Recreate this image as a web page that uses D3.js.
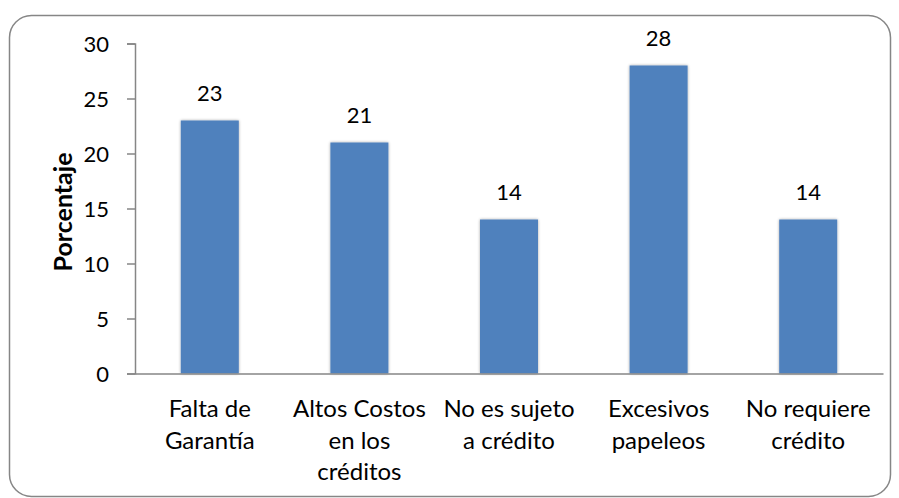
<!DOCTYPE html>
<html><head><meta charset="utf-8">
<script src="https://cdn.jsdelivr.net/npm/d3@7"></script>
<style>body{margin:0;background:#fff}svg{display:block}</style>
</head><body>
<svg id="c" width="899" height="498"></svg>
<script>
const categories = [["Falta de","Garantía"],["Altos Costos","en los","créditos"],["No es sujeto","a crédito"],["Excesivos","papeleos"],["No requiere","crédito"]];
const values = [23, 21, 14, 28, 14];
const yTicks = [0,5,10,15,20,25,30];
const yLabel = "Porcentaje";

const svg = d3.select("#c");
const FONT = "Lato, 'Open Sans', sans-serif";
const defs = svg.append("defs");
const f = defs.append("filter").attr("id","sh").attr("x","-20%").attr("y","-20%").attr("width","140%").attr("height","140%");
f.append("feGaussianBlur").attr("in","SourceAlpha").attr("stdDeviation",1.5).attr("result","b");
f.append("feOffset").attr("in","b").attr("dx",0).attr("dy",0).attr("result","o");
f.append("feComponentTransfer").attr("in","o").attr("result","o2").append("feFuncA").attr("type","linear").attr("slope",0.35);
const m = f.append("feMerge"); m.append("feMergeNode").attr("in","o2"); m.append("feMergeNode").attr("in","SourceGraphic");

svg.append("rect").attr("x",9.5).attr("y",15.5).attr("width",881).attr("height",481).attr("rx",22)
  .attr("fill","#fff").attr("stroke","#868686").attr("stroke-width",1.5);

const x0 = 135, x1 = 883, yTop = 43.5, yBot = 373.5;
const x = d3.scaleBand().domain(d3.range(categories.length)).range([x0,x1]).padding(0);
const y = d3.scaleLinear().domain([0,30]).range([yBot,yTop]);
const bw = 58;

const g = svg.append("g");
g.selectAll("rect.bar").data(values).join("rect").attr("class","bar")
  .attr("x",(d,i)=>x(i)+x.bandwidth()/2-bw/2).attr("width",bw)
  .attr("y",d=>y(d)).attr("height",d=>y(0)-y(d))
  .attr("fill","#4F81BD").attr("filter","url(#sh)");

const ya = svg.append("g").attr("transform",`translate(${x0},0)`)
  .call(d3.axisLeft(y).tickValues(yTicks).tickSize(8).tickPadding(18));
ya.select(".domain").attr("stroke","#868686").attr("stroke-width",1.5);
ya.selectAll(".tick line").attr("stroke","#868686").attr("stroke-width",1.5);
ya.selectAll(".tick text").attr("font-family",FONT).attr("font-size",22).attr("fill","#000").attr("dy","0.36em");

const xa = svg.append("g").attr("transform",`translate(0,${yBot})`)
  .call(d3.axisBottom(x).tickSize(0).tickFormat(""));
xa.select(".domain").attr("stroke","#868686").attr("stroke-width",1.5);

svg.append("g").selectAll("text").data(categories).join("text")
  .attr("font-family",FONT).attr("font-size",24).attr("text-anchor","middle").attr("fill","#000")
  .each(function(lines,i){
    const t = d3.select(this);
    lines.forEach((l,j)=>t.append("tspan").attr("x",x(i)+x.bandwidth()/2).attr("y",417+j*31.5).text(l));
  });

svg.append("g").selectAll("text").data(values).join("text")
  .attr("x",(d,i)=>x(i)+x.bandwidth()/2).attr("y",d=>y(d)-20)
  .attr("font-family",FONT).attr("font-size",22).attr("text-anchor","middle").attr("fill","#000")
  .text(d=>d);

svg.append("text").attr("transform","translate(72,212) rotate(-90)")
  .attr("font-family",FONT).attr("font-size",25).attr("font-weight","bold").attr("text-anchor","middle")
  .text(yLabel);
</script>
</body></html>
